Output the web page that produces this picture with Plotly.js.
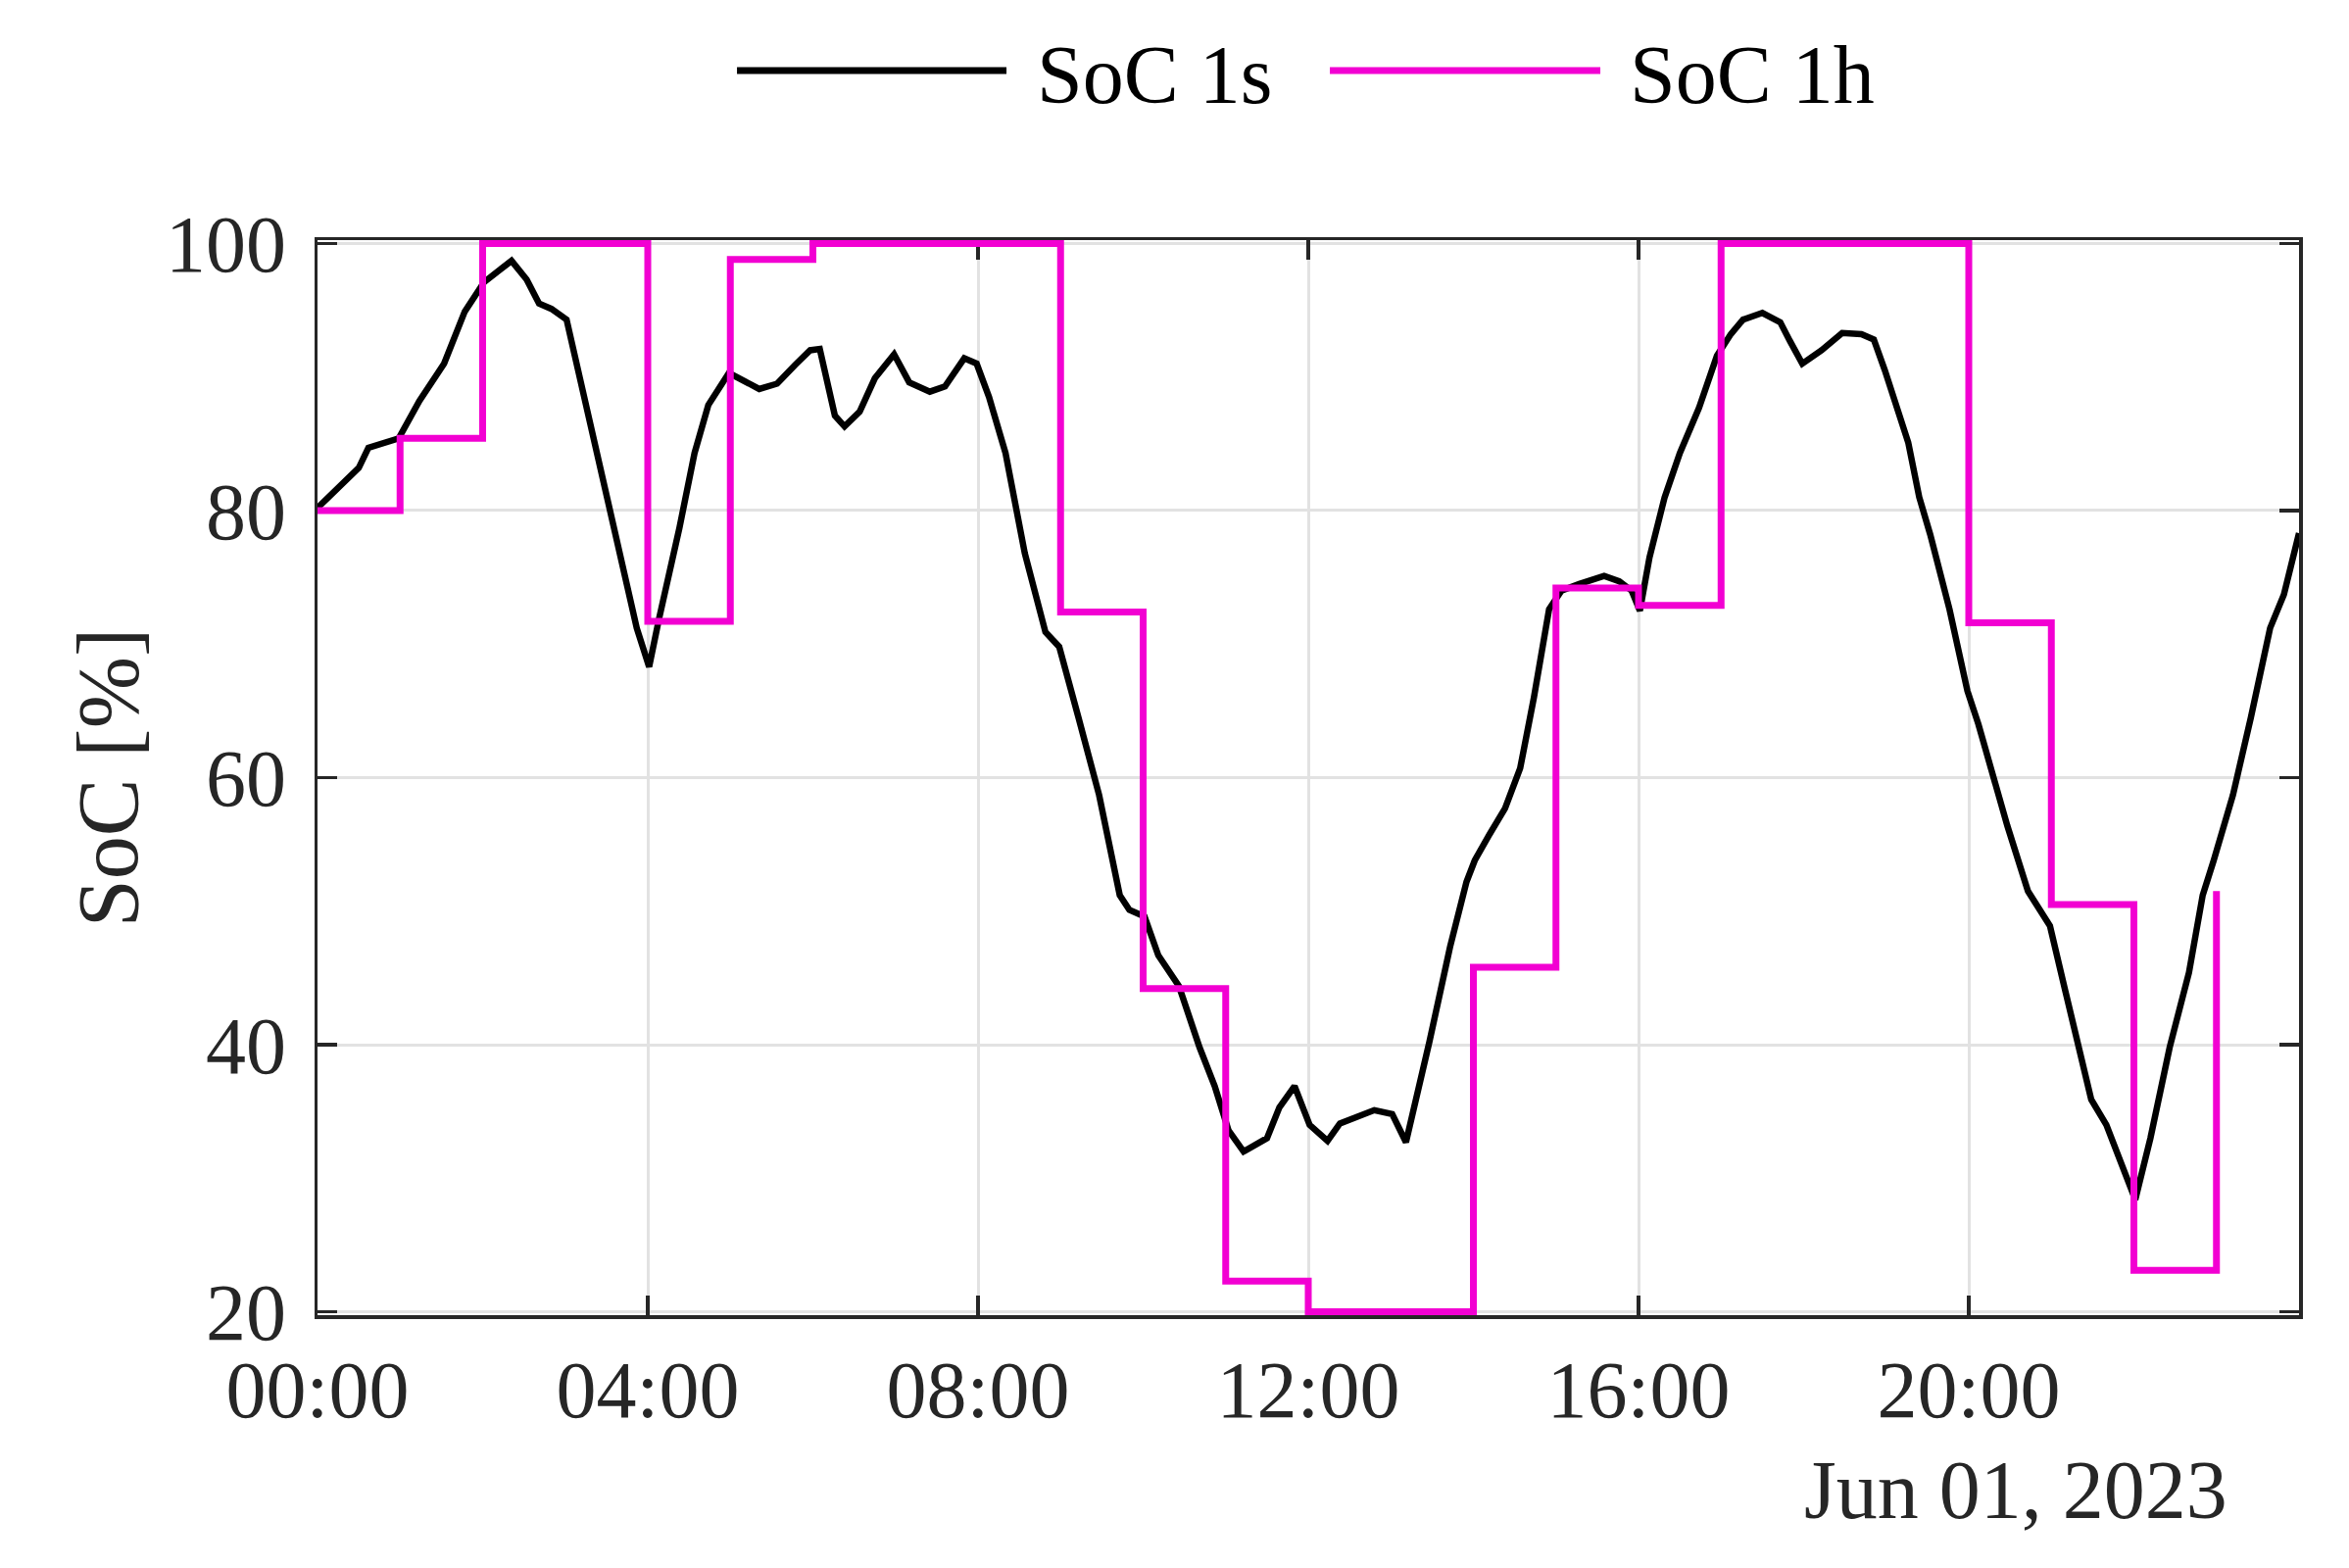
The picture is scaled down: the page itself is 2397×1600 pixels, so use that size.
<!DOCTYPE html>
<html>
<head>
<meta charset="utf-8">
<script src="https://cdn.plot.ly/plotly-3.0.1.min.js"></script>
<style>
  html, body { margin: 0; padding: 0; background: #ffffff; }
  #chart { width: 2397px; height: 1600px; }
</style>
</head>
<body>
<div id="chart"></div>
<script>
// ---------------- DATA ----------------
const soc1sTime = [
  '00:00','00:30','00:37','00:47','00:59','01:14','01:32','01:47','02:01','02:21',
  '02:32','02:41','02:50','03:01','03:21','03:40','03:52','04:01','04:08','04:23',
  '04:34','04:44','04:59','05:21','05:34','05:47','05:58','06:05','06:16','06:23',
  '06:34','06:45','06:59','07:10','07:25','07:36','07:50','07:59','08:08','08:20',
  '08:34','08:49','08:59','09:13','09:28','09:43','09:50','10:01','10:11','10:26',
  '10:41','10:52','11:02','11:13','11:30','11:39','11:50','12:01','12:14','12:23',
  '12:48','13:01','13:11','13:28','13:43','13:55','14:01','14:12','14:23','14:34',
  '14:44','14:55','15:04','15:17','15:35','15:46','15:55','16:01','16:08','16:19',
  '16:30','16:44','16:57','17:07','17:16','17:30','17:43','17:50','17:59','18:13',
  '18:28','18:42','18:51','18:59','19:08','19:16','19:24','19:32','19:46','19:59',
  '20:07','20:18','20:28','20:43','20:59','21:10','21:29','21:40','22:01','22:12',
  '22:26','22:40','22:50','22:58','23:12','23:25','23:39','23:49','23:58','24:00'
];
const soc1sValue = [
  80.2, 83.2, 84.7, 85.0, 85.4, 88.2, 91.0, 94.9, 97.1, 98.7,
  97.3, 95.5, 95.1, 94.3, 85.4, 76.8, 71.2, 68.3, 71.8, 78.7,
  84.3, 87.9, 90.3, 89.1, 89.5, 90.9, 92.0, 92.1, 87.1, 86.3,
  87.4, 89.9, 91.7, 89.6, 88.9, 89.3, 91.4, 91.0, 88.5, 84.3,
  76.8, 70.9, 69.8, 64.5, 58.7, 51.2, 50.1, 49.6, 46.7, 44.4,
  39.8, 36.9, 33.6, 32.0, 33.0, 35.3, 36.9, 34.0, 32.8, 34.1,
  35.1, 34.8, 32.7, 40.2, 47.3, 52.2, 53.8, 55.8, 57.7, 60.7,
  66.0, 72.6, 74.0, 74.5, 75.1, 74.7, 74.0, 72.5, 76.5, 81.0,
  84.3, 87.7, 91.6, 93.2, 94.3, 94.8, 94.1, 92.7, 91.0, 92.0,
  93.3, 93.2, 92.8, 90.5, 87.7, 85.1, 81.0, 78.2, 72.6, 66.5,
  64.0, 60.0, 56.4, 51.5, 48.9, 44.1, 35.9, 34.0, 28.4, 33.0,
  39.8, 45.4, 51.2, 53.8, 58.7, 64.5, 71.2, 73.7, 77.6, 78.3
];

// SoC sampled at 1 h (step)
const soc1hTime = [
  '00:00','01:00','02:00','03:00','04:00','05:00','06:00','07:00','08:00','09:00',
  '10:00','11:00','12:00','13:00','14:00','15:00','16:00','17:00','18:00','19:00',
  '20:00','21:00','22:00','23:00'
];
const soc1hValue = [
  80.0, 85.4, 100, 100, 71.7, 98.8, 100, 100, 100, 72.4,
  44.2, 22.3, 20.0, 20.0, 45.8, 74.2, 72.9, 100, 100, 100,
  71.6, 50.5, 23.1, 51.5
];

const xTickTimes = ['00:00','04:00','08:00','12:00','16:00','20:00'];
const yTickValues = [20, 40, 60, 80, 100];
const seriesNames = ['SoC 1s', 'SoC 1h'];
const dateLabel = 'Jun 01, 2023';
const yTitle = 'SoC [%]';

// -------------- helpers --------------
function stamp(hhmm) {
  const p = hhmm.split(':');
  const mins = parseInt(p[0], 10) * 60 + parseInt(p[1], 10);
  const d = new Date(Date.UTC(2023, 5, 1, 0, 0) + mins * 60000);
  const pad = n => String(n).padStart(2, '0');
  return d.getUTCFullYear() + '-' + pad(d.getUTCMonth() + 1) + '-' + pad(d.getUTCDate()) +
         ' ' + pad(d.getUTCHours()) + ':' + pad(d.getUTCMinutes());
}

const FONT = 'Liberation Serif, Times New Roman, serif';
const TXT = '#262626';
const BLACK = '#000000';
const MAGENTA = '#f200d2';

const traces = [
  {
    type: 'scatter', mode: 'lines', name: seriesNames[0],
    x: soc1sTime.map(stamp), y: soc1sValue,
    line: { color: BLACK, width: 6.5 },
    showlegend: false
  },
  {
    type: 'scatter', mode: 'lines', name: seriesNames[1],
    x: soc1hTime.map(stamp), y: soc1hValue,
    line: { color: MAGENTA, width: 7, shape: 'hv' },
    showlegend: false
  }
];

const axisCommon = {
  showline: true, linecolor: TXT, linewidth: 3.5, mirror: 'ticks',
  ticks: 'inside', ticklen: 20, tickwidth: 3.5, tickcolor: TXT,
  showgrid: true, gridcolor: '#e2e2e2', gridwidth: 3,
  zeroline: false,
  tickfont: { family: FONT, size: 82, color: TXT },
  layer: 'below traces'
};

const layout = {
  width: 2397, height: 1600,
  paper_bgcolor: '#ffffff', plot_bgcolor: '#ffffff',
  margin: { l: 324, r: 51, t: 245, b: 258 },
  showlegend: false,
  xaxis: Object.assign({}, axisCommon, {
    type: 'date',
    range: [stamp('00:00'), stamp('24:00')],
    tickmode: 'array',
    tickvals: xTickTimes.map(stamp),
    ticktext: xTickTimes,
    ticklabelstandoff: 2
  }),
  yaxis: Object.assign({}, axisCommon, {
    range: [19.75, 100.25],
    tickmode: 'array',
    tickvals: yTickValues,
    ticktext: yTickValues.map(String),
    ticklabelstandoff: 12,
    title: { text: yTitle, font: { family: FONT, size: 88, color: TXT }, standoff: 0 }
  }),
  shapes: [
    { type: 'line', xref: 'paper', yref: 'paper', x0: 0.2117, x1: 0.3477, y0: 1.1577, y1: 1.1577,
      line: { color: BLACK, width: 7 } },
    { type: 'line', xref: 'paper', yref: 'paper', x0: 0.5109, x1: 0.6474, y0: 1.1577, y1: 1.1577,
      line: { color: MAGENTA, width: 7 } }
  ],
  annotations: [
    { xref: 'paper', yref: 'paper', x: 0.362, y: 1.154, xanchor: 'left', yanchor: 'middle',
      text: seriesNames[0], showarrow: false, font: { family: FONT, size: 84, color: BLACK } },
    { xref: 'paper', yref: 'paper', x: 0.661, y: 1.154, xanchor: 'left', yanchor: 'middle',
      text: seriesNames[1], showarrow: false, font: { family: FONT, size: 84, color: BLACK } },
    { xref: 'paper', yref: 'paper', x: 0.965, y: -0.163, xanchor: 'right', yanchor: 'middle',
      text: dateLabel, showarrow: false, font: { family: FONT, size: 84, color: TXT } }
  ]
};

Plotly.newPlot('chart', traces, layout, { displayModeBar: false, staticPlot: true });
</script>
</body>
</html>
